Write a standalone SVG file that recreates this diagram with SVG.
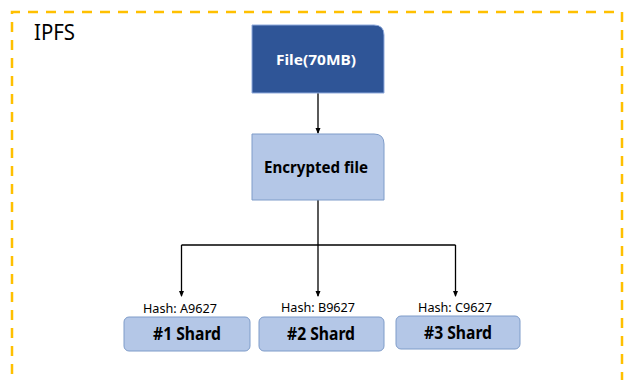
<svg xmlns="http://www.w3.org/2000/svg" width="624" height="380" viewBox="0 0 624 380">
  <defs>
    <marker id="arrow" viewBox="0 0 6 6" refX="5" refY="3" markerWidth="6" markerHeight="6" orient="auto" markerUnits="userSpaceOnUse">
      <path d="M0,0.5 L6,3 L0,5.5 Z" fill="#000"/>
    </marker>
    <style>
      .frame { fill: none; stroke: #FFC000; stroke-width: 2.5; stroke-dasharray: 10 8; }
      .title { font-family: "Noto Sans", "Open Sans", sans-serif; font-size: 21px; fill: #000; }
      .dark { fill: #2F5597; stroke: #8FAADC; stroke-width: 1; }
      .light { fill: #B4C7E7; stroke: #7F9CC9; stroke-width: 1; }
      .label { font-family: "Noto Sans", "Open Sans", sans-serif; font-weight: bold; text-anchor: middle; }
      .hash { font-family: "Noto Sans", "Open Sans", sans-serif; font-size: 12px; text-anchor: middle; fill: #000; }
      .wire { fill: none; stroke: #000; stroke-width: 1.3; }
    </style>
  </defs>

  <rect width="624" height="380" fill="#fff"/>

  <!-- IPFS boundary -->
  <path class="frame" d="M12,392 V12 H622 V392"/>
  <text class="title" x="34" y="40" textLength="41" lengthAdjust="spacingAndGlyphs">IPFS</text>

  <!-- connectors -->
  <g id="connectors">
    <line class="wire" x1="318" y1="93" x2="318" y2="133" marker-end="url(#arrow)"/>
    <path class="wire" d="M318,200 V245"/>
    <path class="wire" d="M181.5,245 H455.5"/>
    <line class="wire" x1="181.5" y1="245" x2="181.5" y2="296" marker-end="url(#arrow)"/>
    <line class="wire" x1="318" y1="245" x2="318" y2="296" marker-end="url(#arrow)"/>
    <line class="wire" x1="455.5" y1="245" x2="455.5" y2="296" marker-end="url(#arrow)"/>
  </g>

  <!-- source file -->
  <g id="file">
    <path class="dark" d="M252,25 H374 Q384,25 384,35 V93 H252 Z"/>
    <text class="label" x="316" y="65" font-size="15" fill="#fff" textLength="80" lengthAdjust="spacingAndGlyphs">File(70MB)</text>
  </g>

  <!-- encrypted file -->
  <g id="encrypted">
    <path class="light" d="M252,134 H374 Q384,134 384,144 V200 H252 Z"/>
    <text class="label" x="316" y="173" font-size="16" fill="#000" textLength="104" lengthAdjust="spacingAndGlyphs">Encrypted file</text>
  </g>

  <!-- shards -->
  <g id="shard1">
    <text class="hash" x="180" y="313" textLength="74" lengthAdjust="spacingAndGlyphs">Hash: A9627</text>
    <rect class="light" x="124" y="317" width="126" height="34" rx="5"/>
    <text class="label" x="187" y="340" font-size="18" fill="#000" textLength="68" lengthAdjust="spacingAndGlyphs">#1 Shard</text>
  </g>
  <g id="shard2">
    <text class="hash" x="318" y="312" textLength="74" lengthAdjust="spacingAndGlyphs">Hash: B9627</text>
    <rect class="light" x="259" y="317" width="125" height="34" rx="5"/>
    <text class="label" x="321" y="340" font-size="18" fill="#000" textLength="68" lengthAdjust="spacingAndGlyphs">#2 Shard</text>
  </g>
  <g id="shard3">
    <text class="hash" x="455" y="312" textLength="74" lengthAdjust="spacingAndGlyphs">Hash: C9627</text>
    <rect class="light" x="396" y="316" width="124" height="33" rx="5"/>
    <text class="label" x="458" y="339" font-size="18" fill="#000" textLength="68" lengthAdjust="spacingAndGlyphs">#3 Shard</text>
  </g>
</svg>
